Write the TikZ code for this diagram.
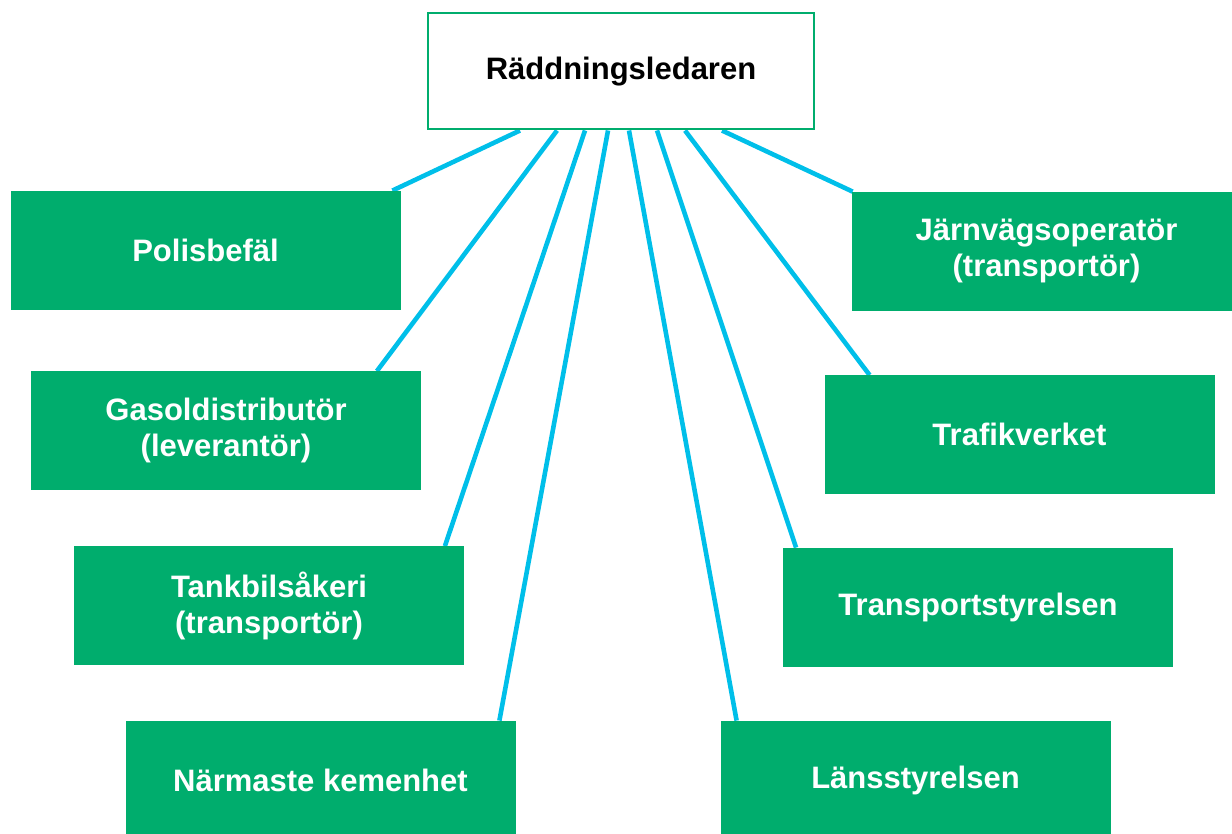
\documentclass[tikz,border=0pt]{standalone}
\usepackage{fontspec}
\setmainfont{Liberation Sans}
\usepackage{xcolor}
\usepackage{tikz}
\usetikzlibrary{backgrounds}
\usetikzlibrary{calc}
\definecolor{boxgreen}{RGB}{0,173,109}
\definecolor{linkblue}{RGB}{0,191,233}
\tikzset{unit/.style={draw=boxgreen, fill=boxgreen, text=white, minimum width=194.5pt, minimum height=59pt, inner sep=0pt, align=center, font=\fontsize{15.5}{18}\selectfont\bfseries}}
\tikzset{leader/.style={draw=boxgreen, line width=1pt, fill=white, minimum width=193pt, minimum height=58pt, inner sep=0pt, font=\fontsize{15.5}{18}\selectfont\bfseries}}
\tikzset{link/.style={draw=linkblue, line width=2.3pt}}

\begin{document}
\begin{tikzpicture}[x=0.5pt,y=-0.5pt]
{
\useasboundingbox (0,0) rectangle (1232,834);
\node[leader] (ledare) at (621,71.5) {Räddningsledaren};
% vänster sida
\node[unit] (polis) at (205.5,250) {Polisbefäl};
\node[unit] (gasol) at (226,430.5) {Gasoldistributör\\(leverantör)};
\node[unit] (tankbil) at (269,605.5) {Tankbilsåkeri\\(transportör)};
\node[unit] (kemenhet) at (320.5,780) {Närmaste kemenhet};
% höger sida
\node[unit] (jarnvag) at (1046.5,251) {Järnvägsoperatör\\(transportör)};
\node[unit] (trafik) at (1019.5,434.5) {Trafikverket};
\node[unit] (transport) at (978,607) {Transportstyrelsen};
\node[unit] (lans) at (915.5,780) {Länsstyrelsen};
\begin{scope}[on background layer]
\draw[link] ($(ledare.south)+(-101,0)$) -- ($(polis.north east)+(-8,0)$);
\draw[link] ($(ledare.south)+(-64,0)$) -- ($(gasol.north east)+(-44,0)$);
\draw[link] ($(ledare.south)+(-36,0)$) -- ($(tankbil.north east)+(-19,0)$);
\draw[link] ($(ledare.south)+(-13,0)$) -- ($(kemenhet.north east)+(-16,0)$);
\draw[link] ($(ledare.south)+(8,0)$) -- ($(lans.north west)+(16,0)$);
\draw[link] ($(ledare.south)+(36,0)$) -- ($(transport.north west)+(13,0)$);
\draw[link] ($(ledare.south)+(64,0)$) -- ($(trafik.north west)+(45,0)$);
\draw[link] ($(ledare.south)+(101,0)$) -- ($(jarnvag.north west)+(1,0)$);
\end{scope}
}
\end{tikzpicture}
\end{document}
